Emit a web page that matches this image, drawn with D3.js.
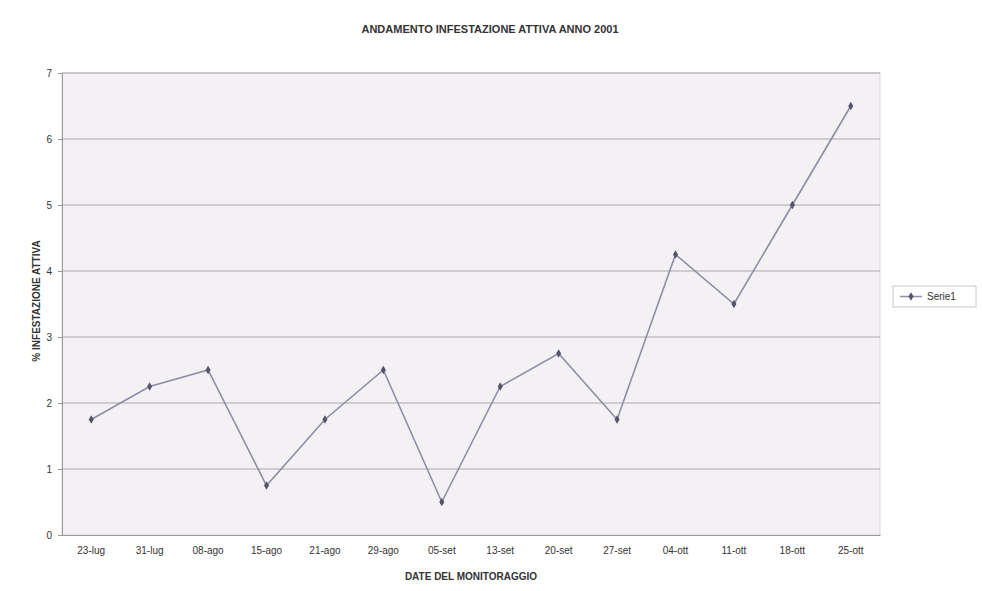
<!DOCTYPE html>
<html>
<head>
<meta charset="utf-8">
<script src="https://cdn.jsdelivr.net/npm/d3@7"></script>
<style>
  body { margin: 0; background: #fff; }
  text { font-family: "Liberation Sans", Arial, sans-serif; fill: #333; }
</style>
</head>
<body>
<div id="chart"></div>
<script>
// dates of monitoring
const dates = ["23-lug", "31-lug", "08-ago", "15-ago", "21-ago", "29-ago", "05-set",
  "13-set", "20-set", "27-set", "04-ott", "11-ott", "18-ott", "25-ott"];
// % infestazione attiva (Serie1)
const serie1 = [1.75, 2.25, 2.5, 0.75, 1.75, 2.5, 0.5, 2.25, 2.75, 1.75, 4.25, 3.5, 5, 6.5];
const yTicks = [0, 1, 2, 3, 4, 5, 6, 7];

const W = 982, H = 591;
const margin = {top: 73, right: 102, bottom: 56, left: 62};
const width = W - margin.left - margin.right;
const height = H - margin.top - margin.bottom;

const svg = d3.select("#chart").append("svg")
  .attr("width", W)
  .attr("height", H);

const g = svg.append("g")
  .attr("transform", "translate(" + margin.left + "," + margin.top + ")");

var x = d3.scaleBand().domain(dates).range([0, width]);
var y = d3.scaleLinear().domain([0, 7]).range([height, 0]);

// plot area background
g.append("rect")
  .attr("width", width)
  .attr("height", height)
  .attr("fill", "#f3f1f4")
  .attr("stroke", "#d8d6da");

// gridlines
g.selectAll(".grid")
  .data(yTicks.slice(1))
  .enter().append("line")
  .attr("x1", 0).attr("x2", width)
  .attr("y1", d => y(d)).attr("y2", d => y(d))
  .attr("stroke", "#a9a7ab")
  .attr("stroke-width", 1);

// axes
const yAxis = g.append("g")
  .call(d3.axisLeft(y).tickValues(yTicks).tickFormat(d3.format("d")).tickSize(4).tickPadding(6));
const xAxis = g.append("g")
  .attr("transform", "translate(0," + height + ")")
  .call(d3.axisBottom(x).tickSize(0).tickPadding(12));
[yAxis, xAxis].forEach(a => {
  a.select(".domain").attr("stroke", "#9a989c");
  a.selectAll(".tick line").attr("stroke", "#9a989c");
  a.selectAll("text").attr("font-size", 10).attr("fill", "#444");
});

// line
var valueline = d3.line()
  .x((d, i) => x(dates[i]) + x.bandwidth() / 2)
  .y(d => y(d));

g.append("path")
  .datum(serie1)
  .attr("fill", "none")
  .attr("stroke", "#8f8ca6")
  .attr("stroke-width", 1.6)
  .attr("d", valueline);

g.selectAll(".pt")
  .data(serie1)
  .enter().append("path")
  .attr("d", d3.symbol().type(d3.symbolDiamond).size(22))
  .attr("transform", (d, i) => "translate(" + (x(dates[i]) + x.bandwidth() / 2) + "," + y(d) + ")")
  .attr("fill", "#55536a");

// titles
svg.append("text")
  .attr("x", 490).attr("y", 33)
  .attr("text-anchor", "middle")
  .attr("font-size", 11).attr("font-weight", "bold")
  .text("ANDAMENTO INFESTAZIONE ATTIVA ANNO 2001");

svg.append("text")
  .attr("x", 471).attr("y", 580)
  .attr("text-anchor", "middle")
  .attr("font-size", 10).attr("font-weight", "bold")
  .text("DATE DEL MONITORAGGIO");

svg.append("text")
  .attr("transform", "translate(40," + (margin.top + height / 2 - 3) + ") rotate(-90)")
  .attr("text-anchor", "middle")
  .attr("font-size", 10).attr("font-weight", "bold")
  .text("% INFESTAZIONE ATTIVA");

// legend
const leg = svg.append("g").attr("transform", "translate(893,286)");
leg.append("rect")
  .attr("width", 83).attr("height", 21)
  .attr("fill", "#fff")
  .attr("stroke", "#c8c6ca");
leg.append("line")
  .attr("x1", 7).attr("x2", 29).attr("y1", 10.5).attr("y2", 10.5)
  .attr("stroke", "#8f8ca6").attr("stroke-width", 1.5);
leg.append("path")
  .attr("d", d3.symbol().type(d3.symbolDiamond).size(22))
  .attr("transform", "translate(18,10.5)")
  .attr("fill", "#55536a");
leg.append("text")
  .attr("x", 34).attr("y", 14)
  .attr("font-size", 10)
  .text("Serie1");
</script>
</body>
</html>
